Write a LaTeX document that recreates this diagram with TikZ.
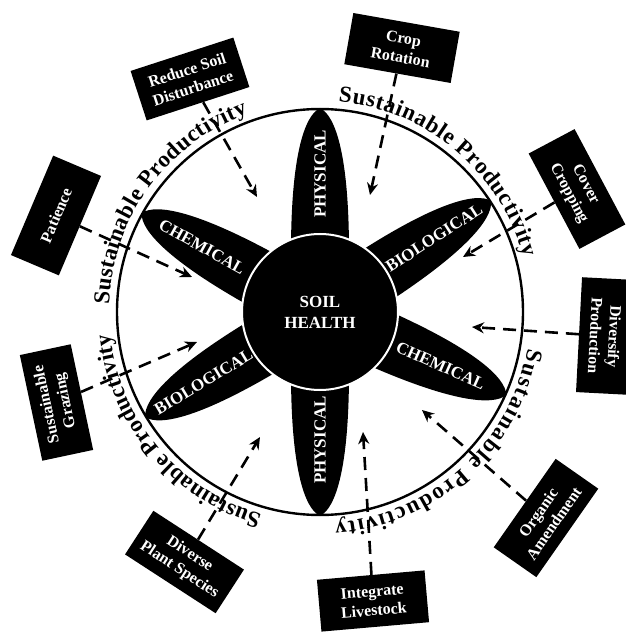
\documentclass[tikz,border=0pt]{standalone}
\usepackage{fontspec}
\setmainfont{Liberation Serif}
\usetikzlibrary{arrows.meta, decorations.text}
\newcommand\arcfont{\fontsize{23}{23}\selectfont\bfseries}
\newcommand\petal[1]{\fill [rotate=#1] (60,-29) .. controls (155,-29) and (196,-16) .. (204,0) .. controls (196,16) and (155,29) .. (60,29) -- cycle;}
\tikzstyle{box} = [rectangle, fill=black, text=white, minimum width=108pt, minimum height=52pt, inner sep=2pt, align=center, font=\fontsize{16}{19}\selectfont\bfseries]
\tikzstyle{petaltext} = [text=white, font=\fontsize{17}{17}\selectfont\bfseries]
\tikzstyle{hub} = [circle, fill=black, draw=white, line width=2pt, minimum size=156pt, text=white, align=center, font=\fontsize{17}{21}\selectfont\bfseries]
\tikzstyle{dasharrow} = [line width=2.6pt, dash pattern=on 13pt off 8pt, -{Stealth[length=12pt,width=11pt]}]
\tikzstyle{arctext} = [decorate, decoration={text along path, text align=fit to path, text={|\arcfont|Sustainable Productivity}}]

\begin{document}
\begin{tikzpicture}[x=1pt, y=1pt]
\useasboundingbox (-320,-320) rectangle (305,312);

\draw [line width=2.4pt] (0,0) circle (203);

\path [arctext] (178:211) arc [start angle=178, end angle=110, radius=211];
\path [arctext] (85:211) arc [start angle=85, end angle=15, radius=211];
\path [arctext] (-10:211) arc [start angle=-10, end angle=-86, radius=211];
\path [arctext] (-106:211) arc [start angle=-106, end angle=-174, radius=211];

\petal{90}
\petal{33}
\petal{-24}
\petal{-90}
\petal{211}
\petal{151}

\node (soil) [hub] at (0,0) {SOIL\\HEALTH};

\node (phys1) [petaltext, rotate=90] at (90:138) {PHYSICAL};
\node (bio1) [petaltext, rotate=33] at (33:136) {BIOLOGICAL};
\node (chem1) [petaltext, rotate=-24] at (-24:132) {CHEMICAL};
\node (phys2) [petaltext, rotate=90] at (-90:128) {PHYSICAL};
\node (bio2) [petaltext, rotate=31] at (211:136) {BIOLOGICAL};
\node (chem2) [petaltext, rotate=-29] at (151:135) {CHEMICAL};

\node (reduce) [box, rotate=18] at (-130,233) {Reduce Soil\\Disturbance};
\node (crop) [box, rotate=-10] at (82,264) {Crop\\Rotation};
\node (cover) [box, rotate=-62] at (257,123) {Cover\\Cropping};
\node (diversify) [box, rotate=-93, minimum width=115pt] at (285,-24) {Diversify\\Production};
\node (organic) [box, rotate=55] at (226,-206) {Organic\\Amendment};
\node (integrate) [box, rotate=5] at (53,-289) {Integrate\\Livestock};
\node (diverse) [box, rotate=-33] at (-135.5,-250) {Diverse\\Plant Species};
\node (grazing) [box, rotate=102] at (-263.5,-90.5) {Sustainable\\Grazing};
\node (patience) [box, rotate=67] at (-264,96.5) {Patience};

\coordinate (treduce) at (-63,115);
\coordinate (tcrop) at (50,117);
\coordinate (tcover) at (143,55);
\coordinate (tdiversify) at (152,-15);
\coordinate (torganic) at (102,-98);
\coordinate (tintegrate) at (43,-120);
\coordinate (tdiverse) at (-60,-125);
\coordinate (tgrazing) at (-123,-30);
\coordinate (tpatience) at (-128,35);

\draw [dasharrow] (reduce) -- (treduce);
\draw [dasharrow] (crop) -- (tcrop);
\draw [dasharrow] (cover) -- (tcover);
\draw [dasharrow] (diversify) -- (tdiversify);
\draw [dasharrow] (organic) -- (torganic);
\draw [dasharrow] (integrate) -- (tintegrate);
\draw [dasharrow] (diverse) -- (tdiverse);
\draw [dasharrow] (grazing) -- (tgrazing);
\draw [dasharrow] (patience) -- (tpatience);
\end{tikzpicture}
\end{document}
